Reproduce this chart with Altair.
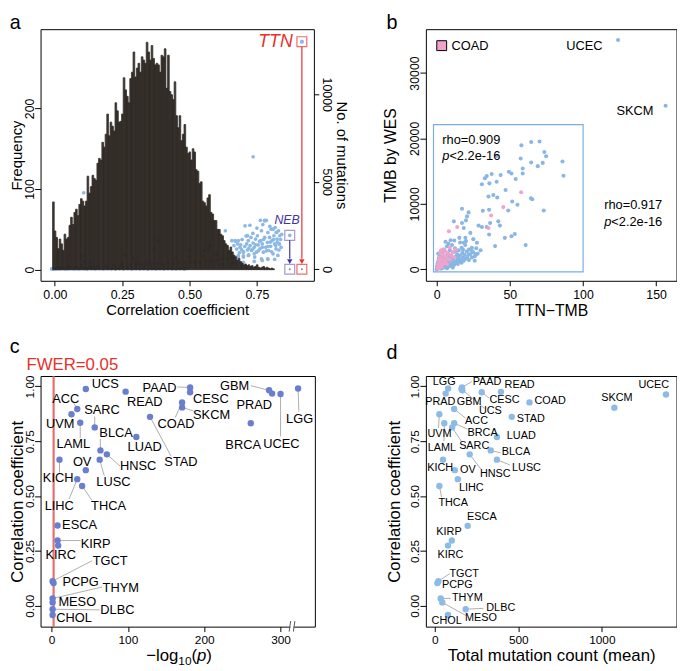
import altair as alt
import pandas as pd

FONT = "Liberation Sans"
BLACK = "black"
RED = "#e8302a"
NEB_TXT = "#3f33a6"
NEB_BOX = "#7c6fc4"
BLUE_A = "#8cb8e5"
BLUE_B = "#8ab6e3"
PINK = "#f2a3cb"
BLUE_C = "#6a7ecf"
BLUE_D = "#8cbbe7"
GRAY = "#9a9a9a"
BAR = "#2b2420"

# ---------------- Panel a: histogram of correlation coefficients ----------------
hist_freq = [84, 48, 40, 26, 38, 32, 24, 44, 38, 40, 55, 65, 56, 71, 75, 67, 81, 88, 85, 79,
             85, 116, 95, 103, 117, 113, 111, 132, 138, 136, 158, 152, 168, 193, 166, 183, 178, 172, 207, 197,
             183, 184, 193, 238, 223, 215, 207, 237, 245, 270, 239, 250, 256, 245,
             264, 260, 256, 282, 270, 260, 278, 262, 254, 256, 254, 245, 266, 264, 274, 225, 266, 221, 217, 211,
             233, 191, 176, 191, 160, 168, 180, 152, 144, 146, 136, 150, 146, 124, 122, 107, 109, 85, 83, 79,
             89, 93, 71, 69, 61, 61, 50, 50, 44, 42, 36, 32, 30, 24, 28, 22, 18, 16, 12, 14, 10, 8, 6,
             7, 5, 6, 4, 5, 3, 4, 6, 3, 2, 3, 4, 2, 3, 2, 1, 2, 1]
HIST_START = -0.0085
HIST_WIDTH = 0.0061

# genes: (correlation coefficient, no. of mutations)
a_band = [(-0.012, 20), (-0.006, 10), (0.0, 25), (0.006, 15), (0.012, 30), (0.02, 15), (0.03, 35), (0.04, 10),
          (0.05, 25), (0.06, 40), (0.07, 15), (0.08, 30), (0.09, 20), (0.10, 40), (0.11, 25), (0.12, 10),
          (0.135, 30), (0.15, 20), (0.165, 35), (0.18, 15), (0.195, 30), (0.21, 25), (0.225, 10), (0.24, 30),
          (0.255, 20), (0.27, 40), (0.285, 15), (0.30, 30), (0.315, 25), (0.33, 35), (0.345, 10), (0.36, 30),
          (0.375, 20), (0.39, 30), (0.405, 15), (0.42, 40), (0.435, 25), (0.45, 20), (0.465, 30), (0.48, 10),
          (0.49, 45)]
a_low = [(0.02, 120), (0.05, 150), (0.08, 130), (0.10, 180), (0.13, 160), (0.16, 200), (0.19, 190),
         (0.22, 230), (0.25, 210), (0.28, 260), (0.30, 240), (0.32, 280), (0.34, 300), (0.36, 270),
         (0.38, 320), (0.40, 300), (0.42, 350), (0.44, 330), (0.46, 380), (0.48, 360), (0.50, 420),
         (0.52, 400), (0.54, 450), (0.56, 480), (0.58, 460), (0.60, 520), (0.62, 560), (0.64, 600),
         (0.66, 650), (0.68, 700), (0.70, 760), (0.72, 820), (0.74, 880), (0.45, 600), (0.50, 700),
         (0.55, 750), (0.60, 850), (0.65, 900), (0.70, 1000), (0.35, 450), (0.30, 380), (0.25, 330),
         (0.62, 300), (0.66, 350), (0.70, 400), (0.74, 450), (0.77, 500), (0.79, 600)]
a_dark = [(0.101, 750), (0.107, 450), (0.132, 411), (0.370, 1161), (0.382, 1635), (0.260, 823),
          (0.290, 637), (0.498, 1071), (0.571, 1161), (0.553, 1071), (0.578, 1353)]
a_cloud = [(0.657, 1635), (0.671, 1595), (0.679, 1445), (0.687, 1257), (0.693, 1127), (0.700, 975),
           (0.706, 2480), (0.712, 1445), (0.718, 1635), (0.720, 1200), (0.728, 1820), (0.730, 1070),
           (0.736, 1500), (0.740, 1257), (0.745, 1725), (0.748, 975), (0.752, 1915), (0.755, 1387),
           (0.761, 1161), (0.764, 1635), (0.767, 2200), (0.770, 1445), (0.774, 975), (0.779, 2795),
           (0.785, 2795), (0.779, 1820), (0.783, 1257), (0.789, 1540), (0.791, 2100), (0.794, 1070),
           (0.797, 1820), (0.801, 1313), (0.803, 2290), (0.806, 1635), (0.810, 880), (0.813, 1915),
           (0.816, 1445), (0.818, 2385), (0.821, 1161), (0.823, 2100), (0.825, 1725), (0.828, 790),
           (0.830, 2200), (0.833, 1445), (0.835, 1915), (0.718, 790), (0.742, 693), (0.767, 598),
           (0.791, 564), (0.816, 564), (0.681, 790), (0.700, 693), (0.736, 6426), (0.724, 2514),
           (0.763, 2796), (0.779, 2762), (0.810, 2289), (0.822, 2103), (0.834, 1443), (0.633, 2198),
           (0.669, 1635), (0.681, 1635), (0.715, 1916), (0.107, 4370),
           (0.690, 1400), (0.705, 1300), (0.715, 1100), (0.725, 1350), (0.735, 1150), (0.745, 1400),
           (0.755, 1050), (0.760, 1600), (0.770, 1250), (0.775, 1700), (0.785, 1050), (0.790, 1300),
           (0.800, 1550), (0.805, 1000), (0.812, 1700), (0.820, 1350), (0.826, 1550), (0.832, 1100),
           (0.838, 1700), (0.842, 2000), (0.798, 2450), (0.772, 2550), (0.750, 2350), (0.735, 2050),
           (0.710, 1900), (0.695, 1700), (0.665, 1350), (0.675, 1150), (0.685, 950), (0.840, 1250)]
ttn_point = (0.917, 13000)
neb_point = (0.872, 1935)

# ---------------- Panel b: TTN-TMB vs TMB by WES ----------------
b_blue = [(57.9, 18940), (64.6, 19440), (70.3, 19540), (73.6, 17930), (74.8, 17270), (57.4, 16920),
          (64.6, 16310), (69.1, 15760), (72.5, 16260), (58.8, 15400), (58.8, 14650), (86.0, 16460),
          (86.7, 14290), (34.2, 14240), (37.6, 14550), (43.7, 14390), (49.3, 14900), (51.1, 14650),
          (54.0, 13790), (41.0, 13380), (36.0, 13130), (30.9, 12980), (35.4, 11110), (38.7, 11360),
          (41.4, 10960), (47.1, 12120), (51.6, 10350), (55.2, 9850), (48.9, 8990), (64.4, 10860),
          (65.3, 10700), (73.2, 8990), (35.8, 9090), (31.5, 8940), (17.3, 9240), (20.7, 8080),
          (20.0, 7470), (21.8, 8690), (17.3, 7070), (18.5, 6310), (23.0, 5560), (28.6, 6670),
          (30.9, 6460), (34.2, 6460), (36.5, 7070), (42.1, 7320), (43.2, 6670), (35.8, 5300),
          (46.6, 4800), (51.1, 5050), (53.4, 5400), (39.9, 3540), (60.8, 3690), (11.7, 7320),
          (9.5, 4440), (15.5, 4800), (19.6, 4800), (25.0, 4600), (18.5, 4040), (27.5, 4040),
          (24.1, 2780), (26.8, 2270), (41.0, 17320), (32.9, 13920), (124.0, 35050), (156.5, 25000),
          (0.5, 100), (1, 300), (1.5, 600), (2, 150), (2, 900), (2.5, 1300), (3, 400), (3, 1800),
          (3.5, 700), (4, 200), (4, 1100), (4, 2500), (4.5, 1600), (5, 500), (5, 3000), (5.5, 900),
          (6, 300), (6, 2000), (6.5, 1300), (7, 600), (7, 3500), (7.5, 2400), (8, 1000), (8, 400),
          (8.5, 1800), (9, 700), (9, 2900), (9.5, 1300), (10, 500), (10, 2100), (10.5, 3700), (11, 900),
          (11, 1600), (11.5, 2600), (12, 700), (12, 1200), (12.5, 3200), (13, 1900), (13.5, 1000),
          (14, 1400), (14, 2300), (14.5, 800), (15, 1700), (15, 2900), (15.5, 1200), (16, 2100),
          (16.5, 1500), (17, 1000), (17, 3300), (17.5, 2500), (18, 1800), (18.5, 1300), (19, 2200),
          (19.5, 3700), (20, 1600), (20.5, 2700), (21, 1900), (22, 1400), (22, 3000), (23, 2300),
          (24, 1800), (25, 2600), (26, 2000), (27, 3200), (28, 2400), (30, 2900), (1, 1200), (2, 2000),
          (3, 2800), (1.5, 1700), (0.5, 800), (6, 4200), (8, 3900), (12, 4400), (16, 4100), (20, 4300),
          (5, 1500), (9, 2000), (13, 2800), (22, 2300), (18, 3000), (24, 3300), (26, 1300), (3, 100),
          (7, 150), (11, 250), (0, 0), (0.2, 400), (1, 2400)]
b_pink = [(0.5, 200), (1, 700), (1.5, 1300), (2, 400), (2, 1800), (2.5, 2500), (3, 1000), (3, 2900),
          (3.5, 600), (4, 1500), (4, 2200), (4.5, 3000), (5, 900), (5.5, 2000), (6, 1300), (6, 2700),
          (7, 1800), (7, 800), (8, 2400), (9, 1500), (9, 3300), (10, 2100), (11, 2600), (12, 1800),
          (13, 3000), (3, 300), (1, 100), (2, 1100), (8.3, 5810), (14, 6460), (35.4, 6310),
          (37.2, 8230), (45.5, 9500), (57.7, 11770)]
b_inset_x = [-2.2, 100.1]
b_inset_y = [-407, 22110]

# ---------------- Panel c: -log10(p) vs correlation ----------------
c_names = ["UCS", "READ", "PAAD", "CESC", "COAD", "SKCM", "GBM", "PRAD", "UCEC", "LGG", "BRCA", "STAD",
           "LUAD", "ACC", "UVM", "SARC", "LAML", "BLCA", "HNSC", "LUSC", "OV", "KICH", "LIHC", "THCA",
           "ESCA", "KIRP", "KIRC", "TGCT", "PCPG", "THYM", "MESO", "DLBC", "CHOL"]
c_logp = [44.8, 97, 181.5, 181.5, 171, 171, 285, 289, 300, 323, 261, 129, 111, 33.6, 26, 56.5, 37.5,
          64, 72.4, 63, 44.8, 10.3, 33.6, 40, 7.8, 7.8, 8.6, 1.3, 2.6, 1.3, 1.3, 1.3, 1.3]
c_rho = [0.988, 0.976, 0.995, 0.973, 0.927, 0.904, 0.982, 0.967, 0.965, 0.990, 0.832, 0.861, 0.769,
         0.897, 0.873, 0.813, 0.834, 0.708, 0.690, 0.666, 0.618, 0.666, 0.577, 0.546, 0.366, 0.297,
         0.274, 0.112, 0.103, 0.033, 0.015, -0.016, -0.042]
c_label_x = [70.3, 122, 141.4, 208.7, 163, 209.6, 239.8, 265.6, 301, 325, 251, 169.5, 122, 18.5, 11.2,
             66, 28.5, 84.5, 113.4, 81, 40, 8.6, 10, 74.6, 36.6, 57.8, 12, 76.8, 38, 90.6, 33.6, 86.2, 29.3]
c_label_y = [1.009, 0.930, 0.994, 0.943, 0.828, 0.868, 1.000, 0.913, 0.736, 0.852, 0.733, 0.655, 0.724,
             0.942, 0.826, 0.892, 0.738, 0.786, 0.637, 0.565, 0.655, 0.583, 0.454, 0.454, 0.370, 0.282,
             0.229, 0.205, 0.109, 0.079, 0.018, -0.022, -0.057]
c_lead_names = ["PAAD", "COAD", "SKCM", "GBM", "UCEC", "LGG", "STAD", "ACC", "SARC", "LAML", "BLCA",
                "HNSC", "LUSC", "KICH", "LIHC", "THCA", "KIRP", "TGCT", "THYM", "DLBC"]
c_lead_x = [165, 162, 186, 261, 300, 324, 156.5, 29.3, 56.5, 37.5, 63.8, 89.7, 69, 10.3, 22.9, 53, 38,
            53, 66, 63]
c_lead_y = [0.997, 0.858, 0.888, 1.003, 0.772, 0.885, 0.682, 0.922, 0.862, 0.765, 0.760, 0.637, 0.592,
            0.607, 0.487, 0.480, 0.297, 0.205, 0.085, -0.019]
FWER_LOGP = 2.6

# ---------------- Panel d: mean mutation count vs correlation ----------------
d_names = ["UCEC", "SKCM", "COAD", "READ", "CESC", "PAAD", "UCS", "GBM", "LGG", "PRAD", "ACC", "UVM",
           "LAML", "BRCA", "SARC", "LUAD", "STAD", "BLCA", "HNSC", "LUSC", "KICH", "OV", "LIHC", "THCA",
           "ESCA", "KIRP", "KIRC", "TGCT", "PCPG", "THYM", "DLBC", "MESO", "CHOL"]
d_count = [1384, 1075, 567, 396, 281, 163, 160, 165, 80, 65, 116, 27.6, 57, 116, 104, 372, 461, 335, 209,
           372, 49, 120, 138, 27.6, 197, 102, 79, 21.7, 15.7, 35.4, 185, 45, 79]
d_rho = [0.963, 0.903, 0.927, 0.975, 0.973, 0.995, 0.988, 0.982, 0.990, 0.967, 0.897, 0.873, 0.832,
         0.832, 0.813, 0.769, 0.861, 0.708, 0.690, 0.666, 0.666, 0.618, 0.577, 0.546, 0.364, 0.297,
         0.274, 0.112, 0.103, 0.033, -0.016, 0.015, -0.042]
d_label_x = [1311, 1090, 691, 508, 418, 313, 333, 206, 57, 33, 250, 28, 42, 286, 236, 518, 575, 486, 362,
             549, 32, 198, 219, 110, 282, 85, 94, 176, 135, 195, 395, 276, 71]
d_label_y = [1.006, 0.949, 0.933, 1.004, 0.937, 1.019, 0.889, 0.927, 1.019, 0.929, 0.840, 0.784, 0.718,
             0.789, 0.730, 0.772, 0.850, 0.702, 0.602, 0.628, 0.626, 0.618, 0.538, 0.469, 0.402, 0.337,
             0.229, 0.143, 0.092, 0.033, -0.010, -0.055, -0.070]
d_lead_names = ["CESC", "PAAD", "UCS", "ACC", "UVM", "LAML", "BRCA", "SARC", "BLCA", "HNSC", "LUSC",
                "THCA", "TGCT", "THYM", "DLBC", "MESO"]
d_lead_x = [325, 222, 297, 185, 22, 55, 196, 159, 394, 277, 449, 41, 89, 94.5, 291, 187]
d_lead_y = [0.947, 1.022, 0.900, 0.855, 0.81, 0.75, 0.805, 0.75, 0.697, 0.622, 0.642, 0.495, 0.146,
            0.033, -0.012, -0.045]


# ---------------- helpers ----------------
def bottom_axis(values, fmt, title, lab_fs, title_fs, title_y):
    kw = dict(values=values, format=fmt, orient="bottom", grid=False, domain=False,
              tickSize=5, tickColor=BLACK, tickWidth=1, labelPadding=3,
              labelFontSize=lab_fs, labelColor=BLACK, labelFont=FONT,
              labelFlush=False, labelOverlap=False)
    if title:
        kw.update(title=title, titleFontSize=title_fs, titleFont=FONT, titleFontWeight="normal",
                  titleColor=BLACK, titleBaseline="alphabetic", titleY=title_y)
    else:
        kw.update(title=None)
    return alt.Axis(**kw)


def left_axis(values, fmt, title, lab_fs, title_fs, title_x):
    return alt.Axis(values=values, format=fmt, orient="left", grid=False, domain=False,
                    tickSize=6, tickColor=BLACK, tickWidth=1,
                    labelAngle=270, labelAlign="center", labelBaseline="alphabetic", labelPadding=1,
                    labelFontSize=lab_fs, labelColor=BLACK, labelFont=FONT,
                    labelFlush=False, labelOverlap=False,
                    title=title, titleAngle=270, titleBaseline="alphabetic", titleAlign="center",
                    titleX=title_x, titleFontSize=title_fs, titleFont=FONT,
                    titleFontWeight="normal", titleColor=BLACK)


def letter(ch, px, py):
    return alt.Chart(pd.DataFrame({"t": [ch]})).mark_text(
        fontSize=20, align="left", baseline="alphabetic", font=FONT, color=BLACK
    ).encode(text="t:N", x=alt.value(px), y=alt.value(py))


def pts_df(pairs, cols):
    return pd.DataFrame(pairs, columns=cols)


# ================= Panel a =================
A_W, A_H = 277, 255
a_xs = alt.Scale(domain=[-0.0531, 0.9616], nice=False, zero=False)
a_fs = alt.Scale(domain=[-13.8, 298.3], nice=False, zero=False)
a_ms = alt.Scale(domain=[-660, 13715], nice=False, zero=False)
a_xaxis = bottom_axis([0, 0.25, 0.5, 0.75], ".2f", "Correlation coefficient", 12.5, 15, 34.4)


def ax(field):
    return alt.X(field, type="quantitative", scale=a_xs, axis=a_xaxis)


def am(field):
    return alt.Y(field, type="quantitative", scale=a_ms, axis=None)


right_axis = alt.Axis(values=[0, 5000, 10000], format="d", orient="right", grid=False, domain=False,
                      tickSize=5, tickColor=BLACK, tickWidth=1,
                      labelAngle=90, labelAlign="center", labelBaseline="alphabetic", labelPadding=4,
                      labelFontSize=12.5, labelColor=BLACK, labelFont=FONT,
                      labelFlush=False, labelOverlap=False,
                      title="No. of mutations", titleAngle=90, titleBaseline="alphabetic",
                      titleAlign="center", titleX=23.3, titleFontSize=15, titleFont=FONT,
                      titleFontWeight="normal", titleColor=BLACK)

genes = pts_df(a_band + a_low + a_dark + a_cloud + [ttn_point, neb_point], ["x", "m"])
a_points = alt.Chart(genes).mark_circle(size=14, color=BLUE_A, opacity=1).encode(
    x=ax("x"), y=alt.Y("m:Q", scale=a_ms, axis=right_axis))

hist = pd.DataFrame({
    "x0": [HIST_START + i * HIST_WIDTH for i in range(len(hist_freq))],
    "x1": [HIST_START + (i + 1) * HIST_WIDTH for i in range(len(hist_freq))],
    "f": hist_freq,
    "z": [0] * len(hist_freq),
})
a_bars = alt.Chart(hist).mark_bar(color=BAR, opacity=0.93, stroke=BAR, strokeWidth=0.9,
                                  strokeOpacity=0.93).encode(
    x=ax("x0"), x2="x1",
    y=alt.Y("f:Q", scale=a_fs, axis=left_axis([0, 100, 200], "d", "Frequency", 12.5, 15, -19.5)),
    y2="z")

boxes = pd.DataFrame({"x": [ttn_point[0], ttn_point[0], neb_point[0], neb_point[0]],
                      "m": [ttn_point[1], 0, neb_point[1], 0],
                      "c": [RED, RED, NEB_BOX, NEB_BOX]})
a_boxes = alt.Chart(boxes).mark_square(filled=False, size=100, strokeWidth=1.2).encode(
    x=ax("x"), y=am("m"), color=alt.Color("c:N", scale=None))
a_tiny = alt.Chart(boxes.iloc[[1, 3]]).mark_circle(size=4, color="#888888", opacity=1).encode(
    x=ax("x"), y=am("m"))
a_top = alt.Chart(pts_df([ttn_point], ["x", "m"])).mark_circle(size=14, color=BLUE_A, opacity=1).encode(
    x=ax("x"), y=am("m"))

links = pd.DataFrame({"x": [ttn_point[0], neb_point[0]], "m": [12717, 1650], "m2": [600, 600],
                      "c": [RED, NEB_TXT]})
a_links = alt.Chart(links).mark_rule(strokeWidth=1.2).encode(
    x=ax("x"), y=am("m"), y2="m2", color=alt.Color("c:N", scale=None))
a_arrows = alt.Chart(links).mark_point(shape="triangle-down", filled=True, size=30, opacity=1).encode(
    x=ax("x"), y=alt.Y("a:Q", scale=a_ms, axis=None), color=alt.Color("c:N", scale=None)
).transform_calculate(a="440")

a_ttn = alt.Chart(pd.DataFrame({"x": [0.883], "m": [12980], "t": ["TTN"]})).mark_text(
    fontSize=18, fontStyle="italic", align="right", baseline="middle", color=RED, font=FONT
).encode(x=ax("x"), y=am("m"), text="t:N")
a_neb = alt.Chart(pd.DataFrame({"x": [0.862], "m": [2818], "t": ["NEB"]})).mark_text(
    fontSize=12.5, fontStyle="italic", align="center", baseline="middle", color=NEB_TXT, font=FONT
).encode(x=ax("x"), y=am("m"), text="t:N")

panel_a = alt.layer(a_points, a_bars, a_boxes, a_tiny, a_top, a_links, a_arrows, a_ttn, a_neb,
                    letter("a", -31.3, 0)).resolve_scale(y="independent").properties(width=A_W, height=A_H)

# ================= Panel b =================
B_W, B_H = 254, 255
b_xs = alt.Scale(domain=[-7.42, 163.97], nice=False, zero=False)
b_ys = alt.Scale(domain=[-1765, 36697], nice=False, zero=False)
b_xaxis = bottom_axis([0, 50, 100, 150], "d", "TTN\u2212TMB", 12.5, 16, 34.7)
b_yaxis = left_axis([0, 10000, 20000, 30000], "d", "TMB by WES", 12.5, 16, -31)


def bx(field):
    return alt.X(field, type="quantitative", scale=b_xs, axis=b_xaxis)


def by(field):
    return alt.Y(field, type="quantitative", scale=b_ys, axis=b_yaxis)


b_rect = alt.Chart(pd.DataFrame({"x": [b_inset_x[0]], "x2": [b_inset_x[1]],
                                 "y": [b_inset_y[0]], "y2": [b_inset_y[1]]})).mark_rect(
    filled=False, color="#7aaee0", strokeWidth=1.2).encode(x=bx("x"), x2="x2", y=by("y"), y2="y2")
b_p1 = alt.Chart(pts_df(b_blue, ["x", "y"])).mark_circle(size=17, color=BLUE_B, opacity=1).encode(
    x=bx("x"), y=by("y"))
b_p2 = alt.Chart(pts_df(b_pink, ["x", "y"])).mark_circle(size=17, color=PINK, opacity=1).encode(
    x=bx("x"), y=by("y"))

b_txt = pd.DataFrame({"x": [101, 135.6], "y": [34130, 24130], "t": ["UCEC", "SKCM"]})
b_names = alt.Chart(b_txt).mark_text(fontSize=13, align="center", baseline="middle", font=FONT,
                                     color=BLACK).encode(x=bx("x"), y=by("y"), text="t:N")
b_rho = alt.Chart(pd.DataFrame({"x": [3.8, 114.5], "y": [19800, 9800],
                                "t": ["rho=0.909", "rho=0.917"]})).mark_text(
    fontSize=13, align="left", baseline="middle", font=FONT, color=BLACK).encode(
    x=bx("x"), y=by("y"), text="t:N")
pv = pd.DataFrame({"x": [3.8, 114.5], "y": [17290, 7290], "p": ["p", "p"],
                   "t": ["<2.2e-16", "<2.2e-16"]})
b_p_it = alt.Chart(pv).mark_text(fontSize=13, fontStyle="italic", align="left", baseline="middle",
                                 font=FONT, color=BLACK).encode(x=bx("x"), y=by("y"), text="p:N")
b_p_rest = alt.Chart(pv).mark_text(fontSize=13, align="left", baseline="middle", dx=7.2,
                                   font=FONT, color=BLACK).encode(x=bx("x"), y=by("y"), text="t:N")
b_leg_sq = alt.Chart(pd.DataFrame({"x": [3.4], "y": [34180]})).mark_square(
    size=100, color=PINK, opacity=1, stroke=BLACK, strokeWidth=1).encode(x=bx("x"), y=by("y"))
b_leg_tx = alt.Chart(pd.DataFrame({"x": [10.1], "y": [34180], "t": ["COAD"]})).mark_text(
    fontSize=13, align="left", baseline="middle", font=FONT, color=BLACK).encode(
    x=bx("x"), y=by("y"), text="t:N")

panel_b = alt.layer(b_rect, b_p1, b_p2, b_names, b_rho, b_p_it, b_p_rest, b_leg_sq, b_leg_tx,
                    letter("b", -40, 0)).properties(width=B_W, height=B_H)

# ================= Panel c =================
C_W, C_H = 278, 254
c_xs = alt.Scale(domain=[-14.48, 345.0], nice=False, zero=False)
c_ys = alt.Scale(domain=[-0.0954, 1.0472], nice=False, zero=False)
c_xaxis = bottom_axis([0, 100, 200, 300], "d", None, 12, 17, 34.7)
c_yaxis = left_axis([0, 0.25, 0.5, 0.75, 1.0], ".2f", "Correlation coefficient", 12, 17, -17.9)


def cx(field):
    return alt.X(field, type="quantitative", scale=c_xs, axis=c_xaxis)


def cy(field):
    return alt.Y(field, type="quantitative", scale=c_ys, axis=c_yaxis)


c_df = pd.DataFrame({"name": c_names, "x": c_logp, "y": c_rho, "tx": c_label_x, "ty": c_label_y})
c_lead = pd.DataFrame({"name": c_lead_names, "ex": c_lead_x, "ey": c_lead_y}).merge(c_df, on="name")

c_fwer = alt.Chart(pd.DataFrame({"x": [FWER_LOGP]})).mark_rule(
    color="#e05555", strokeWidth=2.2, opacity=0.85).encode(x=cx("x"))
c_lines = alt.Chart(c_lead).mark_rule(color=GRAY, strokeWidth=0.8).encode(
    x=cx("x"), y=cy("y"), x2="ex", y2="ey")
c_pts = alt.Chart(c_df).mark_circle(size=42, color=BLUE_C, opacity=1).encode(x=cx("x"), y=cy("y"))
c_lab = alt.Chart(c_df).mark_text(fontSize=13, align="center", baseline="middle", font=FONT,
                                  color=BLACK).encode(x=cx("tx"), y=cy("ty"), text="name:N")
c_brk_bg = alt.Chart(pd.DataFrame({"x": [312.8], "x2": [317.2], "y": [-0.112], "y2": [-0.078]})).mark_rect(
    color="white").encode(x=cx("x"), x2="x2", y=cy("y"), y2="y2")
c_brk = alt.Chart(pd.DataFrame({"x": [311.3, 316.8], "x2": [313.3, 318.8],
                                "y": [-0.118, -0.118], "y2": [-0.07, -0.07]})).mark_rule(
    color="#555555", strokeWidth=1).encode(x=cx("x"), x2="x2", y=cy("y"), y2="y2")
c_fwer_t = alt.Chart(pd.DataFrame({"t": ["FWER=0.05"]})).mark_text(
    fontSize=17, align="left", baseline="alphabetic", color=RED, font=FONT).encode(
    text="t:N", x=alt.value(-14.3), y=alt.value(-6.4))


def piece(txt, px, py, fs, italic=False):
    kw = dict(fontSize=fs, align="left", baseline="alphabetic", font=FONT, color=BLACK)
    if italic:
        kw["fontStyle"] = "italic"
    return alt.Chart(pd.DataFrame({"t": [txt]})).mark_text(**kw).encode(
        text="t:N", x=alt.value(px), y=alt.value(py))


TY = C_H + 34.7
c_title = [piece("\u2212log", 107, TY, 17), piece("10", 139.6, TY + 4, 12), piece("(", 153, TY, 17),
           piece("p", 158.6, TY, 17, italic=True), piece(")", 168, TY, 17)]

panel_c = alt.layer(c_fwer, c_lines, c_pts, c_lab, c_brk_bg, c_brk, c_fwer_t, *c_title,
                    letter("c", -31.3, -23.7)).properties(width=C_W, height=C_H)

# ================= Panel d =================
D_W, D_H = 254, 254
d_xs = alt.Scale(domain=[-53.2, 1447], nice=False, zero=False)
d_ys = alt.Scale(domain=[-0.0954, 1.0472], nice=False, zero=False)
d_xaxis = bottom_axis([0, 500, 1000], "d", "Total mutation count (mean)", 12, 17, 34.7)
d_yaxis = left_axis([0, 0.25, 0.5, 0.75, 1.0], ".2f", "Correlation coefficient", 12, 17, -26.7)


def dx_(field):
    return alt.X(field, type="quantitative", scale=d_xs, axis=d_xaxis)


def dy_(field):
    return alt.Y(field, type="quantitative", scale=d_ys, axis=d_yaxis)


d_df = pd.DataFrame({"name": d_names, "x": d_count, "y": d_rho, "tx": d_label_x, "ty": d_label_y})
d_lead = pd.DataFrame({"name": d_lead_names, "ex": d_lead_x, "ey": d_lead_y}).merge(d_df, on="name")

d_lines = alt.Chart(d_lead).mark_rule(color=GRAY, strokeWidth=0.8).encode(
    x=dx_("x"), y=dy_("y"), x2="ex", y2="ey")
d_pts = alt.Chart(d_df).mark_circle(size=42, color=BLUE_D, opacity=1).encode(x=dx_("x"), y=dy_("y"))
d_lab = alt.Chart(d_df).mark_text(fontSize=11, align="center", baseline="middle", font=FONT,
                                  color=BLACK).encode(x=dx_("tx"), y=dy_("ty"), text="name:N")

panel_d = alt.layer(d_lines, d_pts, d_lab, letter("d", -40, -17)).properties(width=D_W, height=D_H)

chart = alt.concat(panel_a, panel_b, panel_c, panel_d, columns=2,
                   spacing={"row": 96.5, "column": 112.5}, bounds="flush", padding=0
                   ).configure(font=FONT).configure_view(stroke=BLACK, strokeWidth=1)

chart.save("out.html", embed_options={"renderer": "svg", "actions": False})
